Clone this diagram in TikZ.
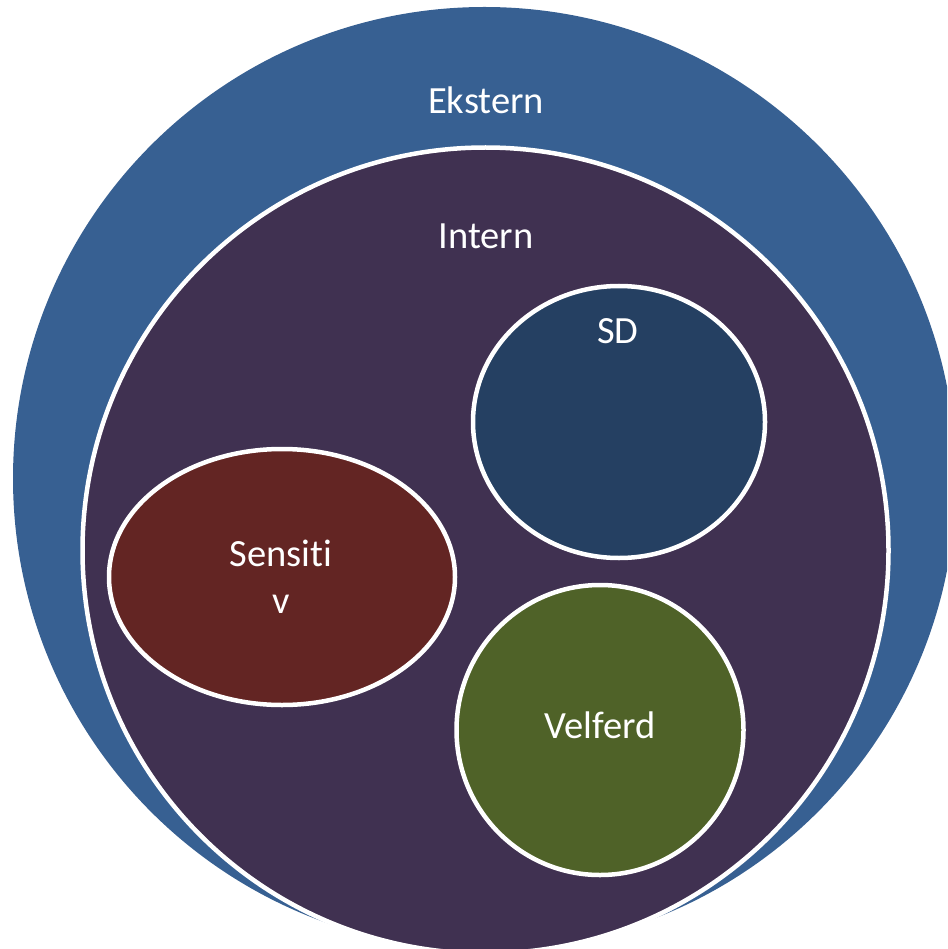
\documentclass[tikz,border=0pt]{standalone}
\usepackage{fontspec}
\setmainfont{Carlito}[Ligatures=NoCommon]
\usetikzlibrary{shapes.geometric}
\definecolor{eksternblue}{HTML}{376092}
\definecolor{internpurple}{HTML}{403151}
\definecolor{sdblue}{HTML}{254062}
\definecolor{sensred}{HTML}{632523}
\definecolor{velgreen}{HTML}{4F6228}
\begin{document}
\begin{tikzpicture}[x=1pt,y=-1pt,
ring/.style={ellipse, draw=white, line width=4.5pt, inner sep=0pt},
lbl/.style={text=white, anchor=base, align=center, font=\fontsize{38.5}{47}\selectfont}]
\useasboundingbox (0,0) rectangle (947,949);
\clip (0,0) rectangle (947,949);
% outer and inner circles
\node[circle, fill=eksternblue, minimum size=943pt, inner sep=0pt] (ekstern) at (484.5,478.5) {};
\node[circle, ring, fill=internpurple, minimum size=806pt] (intern) at (485.5,550.5) {};
% groups inside
\node[ring, fill=sdblue, minimum width=292pt, minimum height=272pt] (sd) at (619,422) {};
\node[ring, fill=sensred, minimum width=346pt, minimum height=256pt] (sens) at (282,577) {};
\node[ring, fill=velgreen, minimum width=287pt, minimum height=290pt] (velferd) at (600,730) {};
% labels (base of last line)
\node[lbl] (ekstern-lbl) at (486,114) {Ekstern};
\node[lbl] (intern-lbl) at (486,249) {Intern};
\node[lbl] (sd-lbl) at (618,343) {SD};
\node[lbl] (sens-lbl) at (281,613) {Sensiti\\v};
\node[lbl] (velferd-lbl) at (600,738) {Velferd};
\end{tikzpicture}
\end{document}
